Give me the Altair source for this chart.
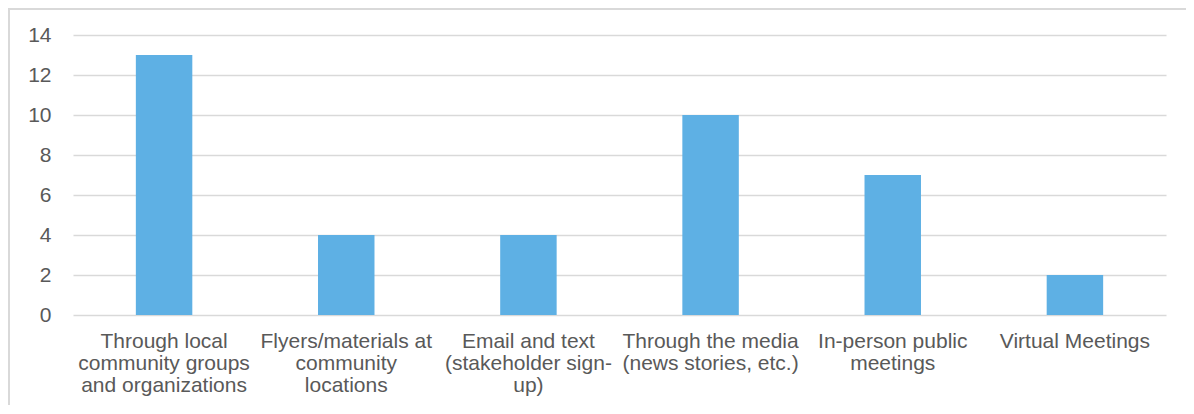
import altair as alt
import pandas as pd

categories = [
    "Through local|community groups|and organizations",
    "Flyers/materials at|community|locations",
    "Email and text|(stakeholder sign-|up)",
    "Through the media|(news stories, etc.)",
    "In-person public|meetings",
    "Virtual Meetings",
]
counts = [13, 4, 4, 10, 7, 2]
y_ticks = [0, 2, 4, 6, 8, 10, 12, 14]

df = pd.DataFrame({"category": categories, "count": counts})

FONT = "Liberation Sans"
TEXT = "#595959"
GRID = "#d9d9d9"

bars = alt.Chart(df).mark_bar(color="#5EB0E4").encode(
    x=alt.X(
        "category:N",
        sort=None,
        title=None,
        scale=alt.Scale(paddingInner=0.69, paddingOuter=0.345),
        axis=alt.Axis(
            labelExpr="split(datum.label, '|')",
            labelAngle=0,
            labelAlign="center",
            labelBaseline="top",
            labelPadding=15,
            labelOverlap=False,
            labelLimit=0,
            labelLineHeight=22,
            labelFontSize=21,
            labelFont=FONT,
            labelColor=TEXT,
            ticks=False,
            domain=False,
            grid=False,
        ),
    ),
    y=alt.Y(
        "count:Q",
        title=None,
        scale=alt.Scale(domain=[0, 14], nice=False),
        axis=alt.Axis(
            values=y_ticks,
            labelFontSize=21,
            labelFont=FONT,
            labelColor=TEXT,
            labelPadding=22,
            ticks=False,
            domain=False,
            grid=True,
            gridColor=GRID,
            gridWidth=1.5,
        ),
    ),
)

border = alt.Chart(df).mark_rect(
    fillOpacity=0, stroke=GRID, strokeWidth=1.5
).encode(
    x=alt.value(-64),
    x2=alt.value(1200),
    y=alt.value(-26),
    y2=alt.value(500),
)

chart = alt.layer(border, bars).properties(
    width=1093,
    height=280,
    autosize=alt.AutoSizeParams(type="none"),
    padding={"left": 65, "top": 27, "right": 20, "bottom": 90},
).configure_view(stroke=None)

chart.save("out.html", embed_options={"renderer": "svg", "actions": False})
